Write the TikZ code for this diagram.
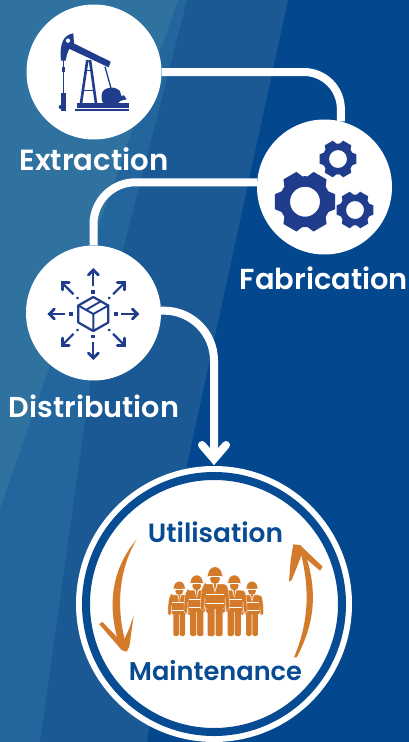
\documentclass[tikz,border=0pt]{standalone}
\usepackage{fontspec}
\setmainfont{Poppins}[UprightFont=* SemiBold,BoldFont=* SemiBold]
\usetikzlibrary{calc}
\definecolor{bgbase}{HTML}{03478F}
\definecolor{bgmid}{HTML}{1A5993}
\definecolor{bglow}{HTML}{23669D}
\definecolor{bgtop}{HTML}{30729F}
\definecolor{navy}{HTML}{1F3D8C}
\definecolor{ringblue}{HTML}{074B93}
\definecolor{ochre}{HTML}{D37B2A}
\newcommand{\fitw}[2]{\resizebox{#1pt}{!}{\strut #2}}
\newcommand{\gearshape}[5]{% x y R rootR hole
  \fill[navy,even odd rule,shift={(#1,#2)}]
    (-24:#4) \foreach \a in {0,60,...,300}{
      -- ({\a-24}:#4) -- ({\a-14}:#3) -- ({\a+14}:#3) -- ({\a+24}:#4) -- ({\a+30}:#4)
    } -- cycle (0,0) circle (#5);
}
\newcommand{\workerfig}[3]{% x feet-y scale
 \begin{scope}[shift={(#1,#2)},scale=#3]
  \fill[ochre,draw=white,line width=.3pt,rounded corners=1.5pt] (-10,-52) -- (10,-52) .. controls (13,-50) and (14.5,-42) .. (14.5,-26) -- (10.5,-26) -- (10,-40) -- (10,-27) -- (-10,-27) -- (-10,-40) -- (-10.5,-26) -- (-14.5,-26) .. controls (-14.5,-42) and (-13,-50) .. (-10,-52) -- cycle;
  \fill[ochre,rounded corners=1.5pt] (-7.5,-29) rectangle (-.5,0);
  \fill[ochre,rounded corners=1.5pt] (.5,-29) rectangle (7.5,0);
  \draw[white,line width=.7pt] (-9,-42) -- (9,-42) (-9,-33) -- (9,-33);
  \fill[white] (-2.5,-52) -- (2.5,-52) -- (0,-43) -- cycle;
  \fill[ochre] (-1.1,-52) -- (1.1,-52) -- (0,-44) -- cycle;
  \fill[ochre] (0,-57) circle (5);
  \fill[ochre] (-7,-60.5) arc[start angle=180,end angle=360,x radius=7,y radius=8.5] -- (8.5,-60) -- (-8.5,-60) -- cycle;
  \draw[white,line width=.5pt] (-6,-59.5) -- (6,-59.5);
 \end{scope}
}
\begin{document}
\begin{tikzpicture}[x=1pt,y=-1pt,
  disc/.style={circle,fill=white,minimum size=135pt,inner sep=0pt},
  conn/.style={draw=white,line width=8pt},
  lab/.style={anchor=base,inner sep=0pt,text=white,font=\bfseries},
  blab/.style={anchor=base,inner sep=0pt,text=ringblue,font=\bfseries}]
\useasboundingbox (0,0) rectangle (409,742);
\clip (0,0) rectangle (409,742);
% background
\fill[bgbase] (0,0) rectangle (409,742);
\fill[bgmid] (0,0) -- (288,0) -- (188,460) -- (147,742) -- (0,742) -- cycle;
\fill[bglow] (0,0) -- (187,0) -- (92,371) -- (40,742) -- (0,742) -- cycle;
\fill[bgtop] (0,0) -- (178,0) -- (0,508) -- cycle;
% nodes
\node[disc] (ext) at (94,72) {};
\node[disc] (fab) at (324.5,187) {};
\node[disc] (dist) at (93.5,313) {};
\node[circle,fill=white,minimum size=276pt,inner sep=0pt] (use) at (214,604) {};
\node[circle,draw=ringblue,line width=8pt,minimum size=256pt,inner sep=0pt,outer sep=0pt] (ring) at (214,604) {};
\coordinate (tip) at (214,459);
\coordinate (armL) at (202,445);
\coordinate (armR) at (226,445);
% connectors
\draw[conn,rounded corners=37pt] (ext.east) -| (fab.76);
\draw[conn,rounded corners=42pt] (fab.176) -| (dist.north);
\draw[conn,rounded corners=50pt] (dist.2) -| (tip);
\draw[conn,line cap=round,line join=miter] (armL) -- (tip) -- (armR);
% labels
\node[lab] (lext) at (94,170) {\fitw{149}{Extraction}};
\node[lab] (lfab) at (324,289) {\fitw{168}{Fabrication}};
\node[lab] (ldis) at (94,417.5) {\fitw{170}{Distribution}};
\node[blab] (luti) at (215.5,542) {\fitw{135}{Utilisation}};
\node[blab] (lmai) at (215.5,680) {\fitw{173}{Maintenance}};
% pump jack
\begin{scope}[scale=1/3]
 \fill[navy] (232,310) rectangle (387,325);
 \fill[navy] (225,327) rectangle (387,332);
 \draw[navy,line width=2.6pt] (243,310) -- (262,180) (288,310) -- (270,180);
 \draw[navy,line width=1pt] (256,212) -- (276,212) (250,272) -- (282,272);
 \fill[navy] (207,127) -- (215,127) -- (332,185) -- (326,202) -- (207,146) -- cycle;
 \fill[navy,even odd rule] (183,182) .. controls (178,130) and (190,105) .. (220,100) -- (222,130) .. controls (208,140) and (200,160) .. (197,182) -- cycle (204,122) circle (7);
 \draw[navy,line width=1.1pt] (190,180) -- (190,285);
 \fill[navy] (186,200) rectangle (194,215);
 \fill[navy] (183,280) rectangle (198,332);
 \fill[navy] (182,321) circle (6);
 \draw[navy,line width=1.3pt] (315,200) -- (333,265);
 \fill[navy,rounded corners=6pt] (305,314) -- (305,268) -- (350,260) -- (368,285) -- (358,314) -- cycle;
 \fill[navy] (350,290) -- (372,286) -- (380,298) -- (355,304) -- cycle;
\end{scope}
% gears
\gearshape{305}{201.7}{31}{25.5}{15}
\gearshape{338}{159}{19}{15.5}{9}
\gearshape{355}{210}{19}{15.5}{9}
% distribution icon
\begin{scope}[shift={(93.3,314)}]
 \draw[navy,line width=2.2pt,line join=round] (0,-17) -- (15,-8.5) -- (15,8.5) -- (0,17) -- (-15,8.5) -- (-15,-8.5) -- cycle;
 \draw[navy,line width=1.9pt,line join=round] (-15,-8.5) -- (0,0) -- (15,-8.5) (0,0) -- (0,17) (-7.5,-4) -- (8,-13);
 \foreach \a in {0,90,180,270}{
  \begin{scope}[rotate=\a]
   \fill[navy] (20.5,-1.9) rectangle (24.3,1.9);
   \draw[navy,line width=2.2pt] (28,0) -- (43,0);
   \draw[navy,line width=2.8pt,line cap=round,line join=miter] (39,-5) -- (44,0) -- (39,5);
  \end{scope}
 }
 \foreach \a in {45,135,225,315}{
  \begin{scope}[rotate=\a]
   \fill[navy] (22.5,0) circle (1.6);
   \draw[navy,line width=2.2pt] (28,0) -- (43,0);
   \draw[navy,line width=2.8pt,line cap=round,line join=miter] (39,-5) -- (44,0) -- (39,5);
  \end{scope}
 }
\end{scope}
% workers
\workerfig{179.3}{636}{0.79}
\workerfig{252}{636}{0.79}
\workerfig{196.7}{636}{0.88}
\workerfig{234.3}{636}{0.88}
\workerfig{215}{636}{1}
% orange arrows
\begin{scope}[shift={(70,500)},scale=1/3]
 \fill[ochre] (200,118) .. controls (114,220) and (114,340) .. (152,445) -- (170,440) .. controls (140,340) and (140,220) .. (200,118) -- cycle;
 \fill[ochre] (87,372) -- (97,366) -- (158,428) -- (178,385) -- (191,347) -- (178,440) -- (170,455) -- (155,450) -- cycle;
 \fill[ochre] (672,472) .. controls (715,370) and (722,270) .. (690,150) -- (702,150) .. controls (745,270) and (735,370) .. (680,472) -- cycle;
 \fill[ochre] (670,133) -- (690,135) -- (758,200) -- (750,212) -- (695,165) -- (665,240) -- (657,245) -- (662,180) -- cycle;
\end{scope}
\end{tikzpicture}
\end{document}
